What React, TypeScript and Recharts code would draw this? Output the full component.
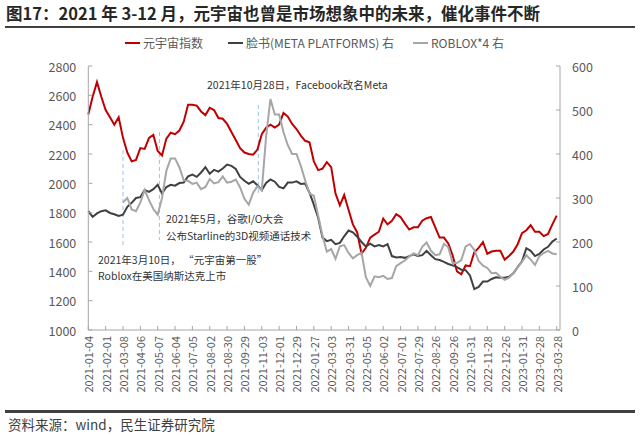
import React from "react";
import { LineChart, Line, XAxis, YAxis, ReferenceLine } from "recharts";

const FONT = '"Noto Sans CJK SC", "Noto Sans", sans-serif';
const AXIS = "#a6a6a6";
const LABEL = "#595959";
const STEP = 4; // data points between two date labels
const GAP = 12; // tick label distance from axis

// x-axis date labels, one every STEP points
const tickDates = [
  "2021-01-04", "2021-02-01", "2021-03-08", "2021-04-06", "2021-05-07", "2021-06-04", "2021-07-05",
  "2021-08-02", "2021-08-30", "2021-09-29", "2021-11-03", "2021-12-01", "2021-12-29", "2022-01-27",
  "2022-03-03", "2022-03-31", "2022-05-05", "2022-06-02", "2022-07-01", "2022-07-29", "2022-08-26",
  "2022-09-26", "2022-10-31", "2022-11-28", "2022-12-26", "2023-01-31", "2023-02-28", "2023-03-28",
];

// 元宇宙指数 (left axis)
const metaverseIndex = [
  2470, 2590, 2690, 2590, 2500, 2450, 2400, 2450, 2310, 2210,
  2150, 2160, 2240, 2235, 2310, 2330, 2220, 2190, 2305, 2345,
  2335, 2360, 2420, 2535, 2535, 2530, 2490, 2465, 2515, 2500,
  2445, 2440, 2405, 2350, 2295, 2240, 2210, 2200, 2195, 2230,
  2335, 2380, 2400, 2380, 2400, 2480, 2455, 2405, 2370, 2325,
  2290, 2280, 2150, 2090, 2100, 2145, 2110, 1930, 1850, 1920,
  1820, 1720, 1665, 1520, 1560, 1630, 1650, 1670, 1760, 1720,
  1745, 1790, 1770, 1725, 1685, 1700, 1700, 1745, 1762, 1770,
  1700, 1630, 1630, 1590, 1510, 1400, 1380, 1440, 1435, 1530,
  1560, 1600, 1520, 1535, 1540, 1540, 1480, 1505, 1535, 1585,
  1660, 1680, 1715, 1670, 1670, 1640, 1655, 1720, 1780,
];

// 脸书(META PLATFORMS) (right axis)
const metaPlatforms = [
  270, 257, 265, 270, 272, 266, 263, 259, 262, 280,
  289, 300, 302, 318, 314, 320, 330, 310, 325, 330,
  328, 334, 335, 349, 353, 348, 358, 370, 355, 364,
  360, 367, 376, 373, 366, 348, 339, 332, 338, 329,
  318, 334, 342, 337, 325, 322, 335, 335, 338, 332,
  333, 312, 285, 255, 210, 202, 205, 195, 198, 213,
  226, 222, 212, 200, 190, 196, 190, 193, 190, 195,
  168, 165, 166, 164, 168, 172, 168, 170, 180, 170,
  161, 159, 155, 150, 147, 143, 137, 136, 124, 93,
  98, 110, 110, 116, 120, 119, 119, 121, 129, 143,
  156, 186, 180, 168, 173, 183, 189, 201, 208,
];

// ROBLOX*4 (right axis), listed from 2021-03-10
const roblox4 = [
  null, null, null, null, null, null, null, null, 290, 300,
  274, 270, 290, 318, 295, 275, 262, 300, 362, 390,
  390, 370, 340, 339, 332, 335, 320, 325, 343, 333,
  336, 349, 335, 337, 342, 324, 298, 285, 312, 327,
  318, 440, 525, 490, 490, 450, 420, 400, 400, 373,
  340, 310, 305, 260, 214, 178, 184, 162, 190, 193,
  175, 163, 170, 176, 120, 100, 122, 120, 123, 116,
  118, 145, 152, 158, 167, 174, 170, 189, 199, 180,
  170, 172, 196, 188, 152, 152, 159, 190, 195, 182,
  157, 146, 141, 129, 130, 121, 114, 119, 130, 143,
  155, 170, 160, 148, 168, 175, 180, 174, 172,
];

const leftTicks = [1000, 1200, 1400, 1600, 1800, 2000, 2200, 2400, 2600, 2800];
const rightTicks = [0, 100, 200, 300, 400, 500, 600];

// event markers (dashed lines), in data units
const eventAt = [8, 16.4, 39.2];
const eventTop = [2227, 2350, 2534];
const eventBottom = [1580, 1614, 1920];

const data = metaverseIndex.map((v, i) => ({
  i,
  idx: v,
  meta: metaPlatforms[i],
  roblox: roblox4[i],
}));

const xTicks = tickDates.map((_, k) => k * STEP);

function DateTick(props: any) {
  const { x, y, payload } = props;
  return (
    <g>
      <line x1={x} x2={x} y1={y - 6} y2={y - 10} stroke={AXIS} />
      <text
        x={x}
        y={y}
        transform={`rotate(-90 ${x} ${y})`}
        textAnchor="end"
        dominantBaseline="central"
        fontSize={11}
        fill={LABEL}
        fontFamily={FONT}
      >
        {tickDates[Math.round(payload.value / STEP)]}
      </text>
    </g>
  );
}

function LeftTick(props: any) {
  const { x, y, payload } = props;
  return (
    <g>
      <line x1={x + GAP} x2={x + GAP + 4} y1={y} y2={y} stroke={AXIS} />
      <text x={x} y={y} textAnchor="end" dominantBaseline="central" fontSize={12.5} fill={LABEL} fontFamily={FONT}>
        {payload.value}
      </text>
    </g>
  );
}

function RightTick(props: any) {
  const { x, y, payload } = props;
  return (
    <g>
      <line x1={x - GAP} x2={x - GAP - 4} y1={y} y2={y} stroke={AXIS} />
      <text x={x} y={y} textAnchor="start" dominantBaseline="central" fontSize={12.5} fill={LABEL} fontFamily={FONT}>
        {payload.value}
      </text>
    </g>
  );
}

const note: React.CSSProperties = {
  position: "absolute",
  fontSize: 10.5,
  lineHeight: "14px",
  color: "#333",
  whiteSpace: "nowrap",
};

function LegendItem({ left, color, label }: { left: number; color: string; label: string }) {
  return (
    <div style={{ position: "absolute", left, top: 35, display: "flex", alignItems: "center", whiteSpace: "nowrap" }}>
      <span style={{ display: "inline-block", width: 15, height: 2, background: color, marginRight: 3 }} />
      <span style={{ fontSize: 12, color: LABEL, lineHeight: "16px" }}>{label}</span>
    </div>
  );
}

export default function App() {
  return (
    <div
      style={{
        position: "absolute",
        left: 0,
        top: 0,
        width: 640,
        height: 436,
        background: "#fff",
        fontFamily: FONT,
        overflow: "hidden",
      }}
    >
      <LineChart width={640} height={436} data={data} margin={{ top: 66, right: 30, bottom: 36, left: 28.3 }}>
        <XAxis
          dataKey="i"
          type="number"
          domain={[0, 108.76]}
          ticks={xTicks}
          interval={0}
          height={70}
          tickSize={0}
          tickMargin={6}
          tickLine={false}
          axisLine={{ stroke: AXIS }}
          tick={<DateTick />}
        />
        <YAxis
          yAxisId="left"
          domain={[1000, 2800]}
          ticks={leftTicks}
          width={60}
          tickSize={0}
          tickMargin={GAP}
          tickLine={false}
          axisLine={{ stroke: AXIS }}
          tick={<LeftTick />}
        />
        <YAxis
          yAxisId="right"
          orientation="right"
          domain={[0, 600]}
          ticks={rightTicks}
          width={50}
          tickSize={0}
          tickMargin={GAP}
          tickLine={false}
          axisLine={{ stroke: AXIS }}
          tick={<RightTick />}
        />
        {eventAt.map((at, k) => (
          <ReferenceLine
            key={k}
            yAxisId="left"
            segment={[
              { x: at, y: eventTop[k] },
              { x: at, y: eventBottom[k] },
            ]}
            stroke="#9dc3e6"
            strokeWidth={1}
            strokeDasharray="4 3"
          />
        ))}
        <Line yAxisId="left" dataKey="idx" stroke="#c00000" strokeWidth={2} dot={false} isAnimationActive={false} />
        <Line yAxisId="right" dataKey="meta" stroke="#404040" strokeWidth={2} dot={false} isAnimationActive={false} />
        <Line yAxisId="right" dataKey="roblox" stroke="#a6a6a6" strokeWidth={2} dot={false} isAnimationActive={false} />
      </LineChart>

      <div
        style={{
          position: "absolute",
          left: 6,
          top: 2,
          fontSize: 16.5,
          fontWeight: 700,
          color: "#262626",
          lineHeight: "22px",
          whiteSpace: "nowrap",
        }}
      >
        图17：2021 年 3-12 月，元宇宙也曾是市场想象中的未来，催化事件不断
      </div>
      <div style={{ position: "absolute", left: 5, top: 26, width: 630, height: 2, background: "#404040" }} />

      <LegendItem left={125} color="#c00000" label="元宇宙指数" />
      <LegendItem left={228} color="#404040" label="脸书(META PLATFORMS) 右" />
      <LegendItem left={413} color="#a6a6a6" label="ROBLOX*4 右" />

      <div style={{ ...note, left: 207, top: 78 }}>2021年10月28日，Facebook改名Meta</div>
      <div style={{ ...note, left: 166, top: 212 }}>2021年5月，谷歌I/O大会</div>
      <div style={{ ...note, left: 166, top: 229 }}>公布Starline的3D视频通话技术</div>
      <div style={{ ...note, left: 98, top: 253 }}>2021年3月10日， “元宇宙第一股”</div>
      <div style={{ ...note, left: 98, top: 269 }}>Roblox在美国纳斯达克上市</div>

      <div style={{ position: "absolute", left: 5, top: 410, width: 630, height: 3, background: "#404040" }} />
      <div style={{ position: "absolute", left: 8, top: 415, fontSize: 13.5, lineHeight: "18px", color: "#404040", whiteSpace: "nowrap" }}>
        资料来源：wind，民生证券研究院
      </div>
    </div>
  );
}
